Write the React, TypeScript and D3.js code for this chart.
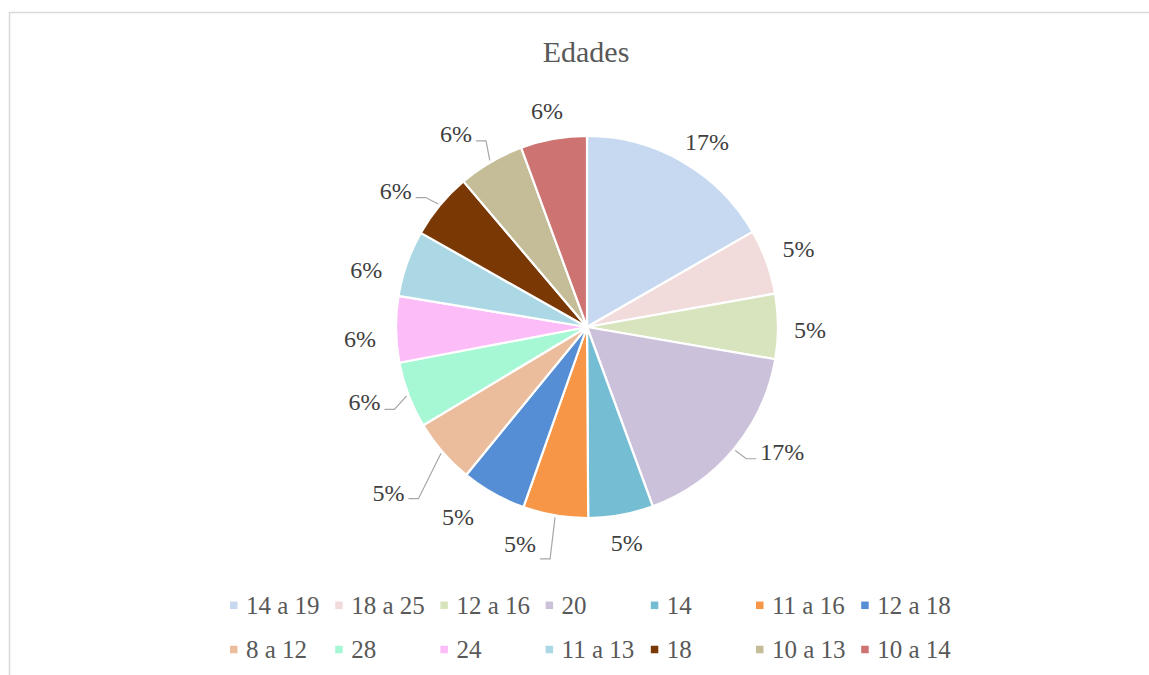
import React from "react";
import * as d3 from "d3";

const categories = ["14 a 19", "18 a 25", "12 a 16", "20", "14", "11 a 16", "12 a 18", "8 a 12", "28", "24", "11 a 13", "18", "10 a 13", "10 a 14"];
const values = [16.7, 5.5, 5.5, 16.7, 5.5, 5.5, 5.5, 5.5, 5.6, 5.6, 5.6, 5.6, 5.6, 5.6];
const pctLabels = ["17%", "5%", "5%", "17%", "5%", "5%", "5%", "5%", "6%", "6%", "6%", "6%", "6%", "6%"];
const colors = ["#c6d9f1", "#f2dcdb", "#d8e4bd", "#ccc1da", "#74bdd2", "#f79646", "#558ed5", "#ebbd9c", "#a6f7d4", "#fbbcf8", "#abd8e4", "#7a3804", "#c4bd97", "#cd7372"];
const title = "Edades";

// layout: [label radius, angle nudge in degrees, has leader line, leader y offset]
const labelLayout: [number, number, boolean, number][] = [
  [220.6, 2.9, false, 0], [225.5, -0.4, false, 0], [223, 0.8, false, 0], [231.7, -7.2, true, 7],
  [219.5, -0.2, false, 0], [227, 7.6, true, 15], [229.1, 4.9, false, 0], [258.3, 1.1, true, 6.5],
  [234.8, 2.3, true, 7.5], [227.2, -2.3, false, 0], [228.2, -4.8, false, 0], [235, -4.1, true, 7],
  [233.4, -3.9, true, 7], [219.9, -0.4, false, 0],
];

const W = 1149, H = 675;
const cx = 587, cy = 327, R = 191;
const labelFont = 24;
const serif = "'Liberation Serif', 'Times New Roman', serif";

export default function App() {
  const pie = d3.pie<number>().sort(null).value((d) => d).startAngle(0).endAngle(2 * Math.PI);
  const arcs = pie(values);
  const arc = d3.arc<d3.PieArcDatum<number>>().innerRadius(0).outerRadius(R);

  const legendX = d3.scaleLinear().domain([0, 1]).range([230, 230 + 105.2]);
  const legendY = d3.scaleLinear().domain([0, 1]).range([605.3, 649.5]);

  return (
    <svg width={W} height={H} style={{ position: "absolute", left: 0, top: 0, display: "block", background: "#fff" }}>
      <rect x={9.5} y={12.5} width={W + 20} height={H + 20} fill="#fff" stroke="#d9d9d9" strokeWidth={1.5} />
      <text x={586} y={61.7} textAnchor="middle" fontFamily={serif} fontSize={30} fill="#595959">
        {title}
      </text>
      <g transform={`translate(${cx},${cy})`}>
        {arcs.map((a, i) => (
          <path key={i} d={arc(a) || ""} fill={colors[i]} stroke="#fff" strokeWidth={2.2} strokeLinejoin="round" />
        ))}
      </g>
      {arcs.map((a, i) => {
        const mid = (a.startAngle + a.endAngle) / 2;
        const [lr, nudge, leader, ly0] = labelLayout[i];
        const ang = mid + (nudge * Math.PI) / 180;
        const lx = cx + lr * Math.sin(ang);
        const ly = cy - lr * Math.cos(ang);
        let leaderPath = null;
        if (leader) {
          const sx = cx + (R + 2) * Math.sin(mid);
          const sy = cy - (R + 2) * Math.cos(mid);
          const halfW = (pctLabels[i].length === 3 ? 1.833 : 1.333) * labelFont / 2;
          const dir = lx < cx ? 1 : -1;
          const ex = lx + dir * (halfW + 4);
          const ey = ly + ly0;
          const elx = ex + dir * 10;
          leaderPath = <path d={`M${sx},${sy}L${elx},${ey}L${ex},${ey}`} fill="none" stroke="#a6a6a6" strokeWidth={1.2} />;
        }
        return (
          <g key={i}>
            {leaderPath}
            <text x={lx} y={ly} dy="0.35em" textAnchor="middle" fontFamily={serif} fontSize={labelFont} fill="#404040">
              {pctLabels[i]}
            </text>
          </g>
        );
      })}
      {categories.map((c, i) => {
        const col = i % 7;
        const row = Math.floor(i / 7);
        const x = legendX(col);
        const y = legendY(row);
        return (
          <g key={c + i}>
            <rect x={x} y={y - 3.75} width={7.5} height={7.5} fill={colors[i]} />
            <text x={x + 16} y={y} dy="0.34em" fontFamily={serif} fontSize={25} fill="#595959">
              {c}
            </text>
          </g>
        );
      })}
    </svg>
  );
}
